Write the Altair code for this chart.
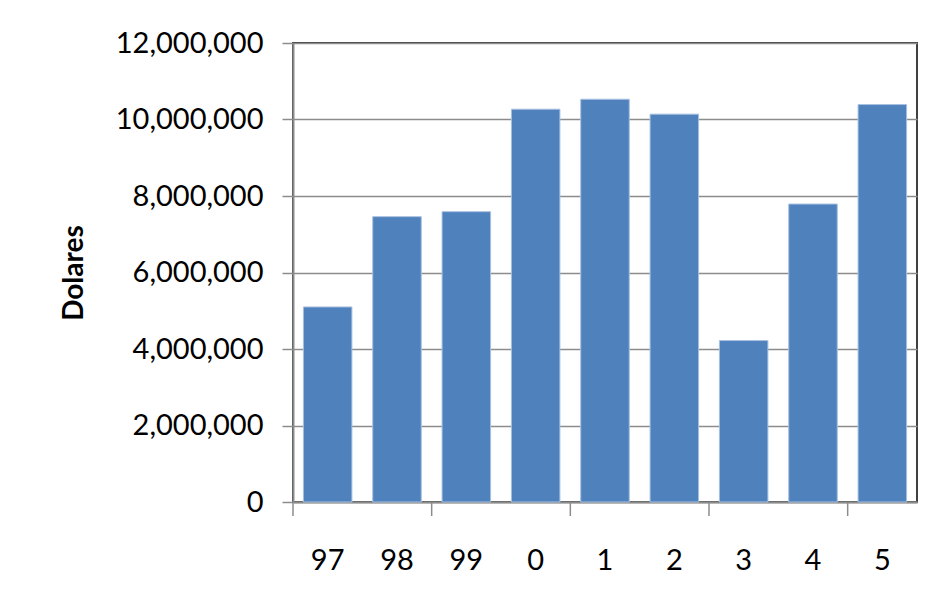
import altair as alt
import pandas as pd

# Data
years = ["97", "98", "99", "0", "1", "2", "3", "4", "5"]
dollars = [5100000, 7460000, 7590000, 10270000, 10530000, 10140000, 4220000, 7790000, 10390000]
y_ticks = [0, 2000000, 4000000, 6000000, 8000000, 10000000, 12000000]
x_tick_marks = ["97", "99", "1", "3", "5"]  # category boundaries carrying a tick mark

df = pd.DataFrame({"year": years, "dollars": dollars})
ticks_df = pd.DataFrame({"year": x_tick_marks})

W, H = 624, 459
FONT = "Lato"
GRID = "#8c8c8c"
PAD_IN, PAD_OUT = 0.3, 0.15
STEP = W / (len(years) - PAD_IN + 2 * PAD_OUT)

xscale = alt.Scale(domain=years, paddingInner=PAD_IN, paddingOuter=PAD_OUT)
yscale = alt.Scale(domain=[0, 12000000], nice=False)

x_axis = alt.Axis(
    title=None, labelAngle=0, ticks=False, domain=True,
    domainColor=GRID, domainWidth=2,
    labelFont=FONT, labelFontSize=29, labelColor="#000000",
    labelPadding=44,
)

bars = alt.Chart(df).mark_bar(color="#4F81BD", stroke="#a9c1e0", strokeWidth=1).encode(
    x=alt.X("year:N", scale=xscale, sort=years, axis=x_axis),
    y=alt.Y(
        "dollars:Q",
        scale=yscale,
        axis=alt.Axis(
            values=y_ticks, labelExpr="format(datum.value, ',')", title="Dolares",
            titleFont=FONT, titleFontSize=28, titleFontWeight="bold", titleColor="#000000",
            titleAngle=270, titleX=-219, titleY=H / 2, titleAlign="center", titleBaseline="middle",
            labelFont=FONT, labelFontSize=29, labelColor="#000000", labelPadding=19,
            tickSize=11, tickColor=GRID, tickWidth=1.5,
            domainColor=GRID, domainWidth=2,
            grid=True, gridColor=GRID, gridWidth=1.5,
        ),
    ),
)

tick_rules = alt.Chart(ticks_df).mark_rule(color=GRID, strokeWidth=1.5).encode(
    x=alt.X("year:N", scale=xscale, sort=years, axis=x_axis, bandPosition=0),
    xOffset=alt.value(-STEP * PAD_IN / 2),
    y=alt.value(H),
    y2=alt.value(H + 14),
)

chart = alt.layer(bars, tick_rules).properties(
    width=W,
    height=H,
    padding={"left": 285, "top": 35, "right": 11, "bottom": 103},
    autosize=alt.AutoSizeParams(type="none"),
    background="white",
).configure_view(stroke="#404040", strokeWidth=2)

chart.save("out.html", embed_options={"renderer": "svg", "actions": False})
